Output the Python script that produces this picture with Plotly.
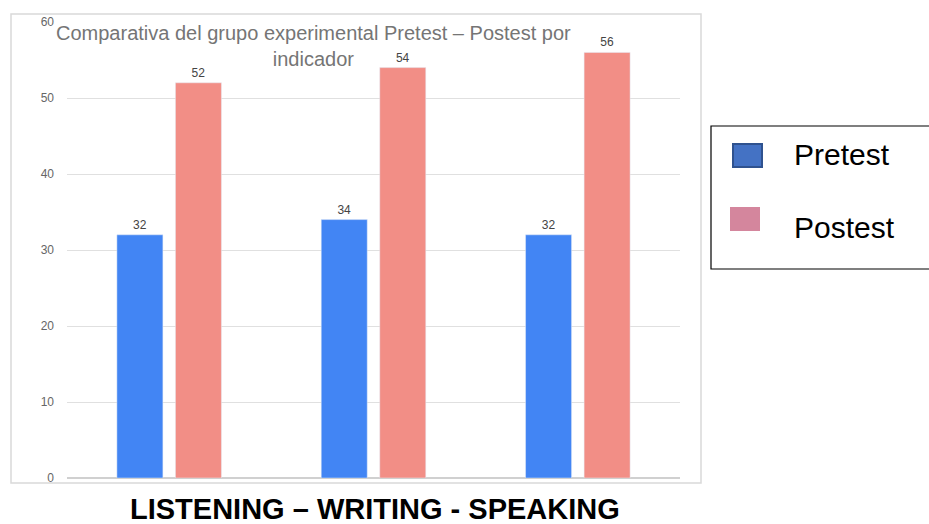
import plotly.graph_objects as go

categories = ["LISTENING", "WRITING", "SPEAKING"]
pretest = [32, 34, 32]
postest = [52, 54, 56]
y_ticks = [0, 10, 20, 30, 40, 50, 60]
title_text = "Comparativa del grupo experimental Pretest – Postest por<br>indicador"
x_label = "LISTENING – WRITING - SPEAKING"
legend_names = ["Pretest", "Postest"]

W, H = 929, 524
L, R, T, B = 67, 249, 22, 46
pw, ph = W - L - R, H - T - B

def px(x):
    return (x - L) / pw

def py(y):
    return (H - B - y) / ph

fig = go.Figure()
fig.add_trace(go.Bar(x=categories, y=pretest, name=legend_names[0], marker_color="#4285F4",
                     text=pretest, textposition="outside", cliponaxis=False,
                     textfont=dict(family="Arial", size=12, color="#444444")))
fig.add_trace(go.Bar(x=categories, y=postest, name=legend_names[1], marker_color="#F28E86",
                     text=postest, textposition="outside", cliponaxis=False,
                     textfont=dict(family="Arial", size=12, color="#444444")))

shapes = [
    # chart box
    dict(type="rect", xref="paper", yref="paper", x0=px(11), x1=px(701), y0=py(483), y1=py(14),
         line=dict(color="#d9d9d9", width=1.5), layer="below"),
    # legend box
    dict(type="rect", xref="paper", yref="paper", x0=px(711), x1=px(931), y0=py(269), y1=py(126),
         line=dict(color="#000000", width=1.2)),
    dict(type="rect", xref="paper", yref="paper", x0=px(733), x1=px(762), y0=py(167), y1=py(144),
         fillcolor="#4472C4", line=dict(color="#2F528F", width=2)),
    dict(type="rect", xref="paper", yref="paper", x0=px(730), x1=px(760), y0=py(231), y1=py(207),
         fillcolor="#D4869D", line=dict(width=0)),
]

annotations = [
    dict(text=title_text, xref="paper", yref="paper", x=px(313), y=py(46), showarrow=False,
         xanchor="center", yanchor="middle", font=dict(family="Arial", size=20, color="#757575")),
    dict(text="<b>" + x_label + "</b>", xref="paper", yref="paper", x=px(375), y=py(509), showarrow=False,
         xanchor="center", yanchor="middle", font=dict(family="Arial", size=29, color="#000000")),
    dict(text=legend_names[0], xref="paper", yref="paper", x=px(792), y=py(155), showarrow=False,
         xanchor="left", yanchor="middle", font=dict(family="Arial", size=30, color="#000000")),
    dict(text=legend_names[1], xref="paper", yref="paper", x=px(792), y=py(227), showarrow=False,
         xanchor="left", yanchor="middle", font=dict(family="Arial", size=30, color="#000000")),
]

fig.update_layout(
    width=W, height=H,
    margin=dict(l=L, r=R, t=T, b=B, pad=0),
    paper_bgcolor="white", plot_bgcolor="white",
    showlegend=False,
    barmode="group", bargap=0.427, bargroupgap=0.214,
    shapes=shapes, annotations=annotations,
    xaxis=dict(showticklabels=False, showgrid=False, zeroline=False, showline=False, ticks=""),
    yaxis=dict(range=[0, 60], tickvals=y_ticks, showgrid=True, gridcolor="#e0e0e0", gridwidth=1,
               zeroline=True, zerolinecolor="#d0d0d0", zerolinewidth=1.5, showline=False,
               tickfont=dict(family="Arial", size=12, color="#666666"), ticks="", ticklabelstandoff=12),
)

fig.write_html("out.html", config={"displayModeBar": False},
               post_script="document.body.style.margin='0';document.body.style.overflow='hidden';")
